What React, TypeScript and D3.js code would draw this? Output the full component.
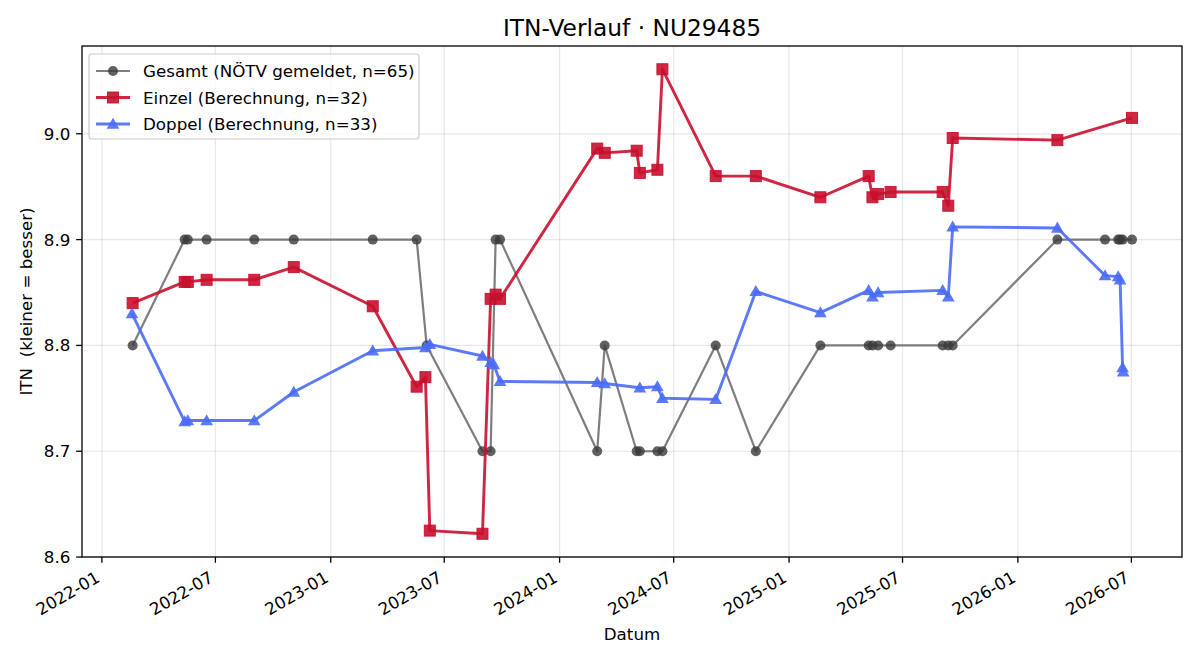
import { line, scaleLinear, scaleTime, symbol, symbolTriangle, timeFormat, timeMonth } from "d3";

const gesamtDates = [
  "2022-02-19", "2022-05-13", "2022-05-18", "2022-06-17", "2022-09-01", "2022-11-03",
  "2023-03-09", "2023-05-18", "2023-06-03", "2023-08-31", "2023-09-13", "2023-09-21",
  "2023-09-28", "2024-03-01", "2024-03-13", "2024-05-03", "2024-05-08", "2024-06-05",
  "2024-06-13", "2024-09-06", "2024-11-09", "2025-02-20", "2025-05-08", "2025-05-14",
  "2025-05-23", "2025-06-12", "2025-09-03", "2025-09-12", "2025-09-19", "2026-03-05",
  "2026-05-20", "2026-06-10", "2026-06-13", "2026-06-17", "2026-07-02",
];
const gesamtValues = [
  8.8, 8.9, 8.9, 8.9, 8.9, 8.9,
  8.9, 8.9, 8.8, 8.7, 8.7, 8.9,
  8.9, 8.7, 8.8, 8.7, 8.7, 8.7,
  8.7, 8.8, 8.7, 8.8, 8.8, 8.8,
  8.8, 8.8, 8.8, 8.8, 8.8, 8.9,
  8.9, 8.9, 8.9, 8.9, 8.9,
];

const einzelDates = [
  "2022-02-19", "2022-05-13", "2022-05-18", "2022-06-17", "2022-09-01", "2022-11-03",
  "2023-03-09", "2023-05-18", "2023-06-01", "2023-06-08", "2023-08-31", "2023-09-13",
  "2023-09-21", "2023-09-28", "2024-03-01", "2024-03-13", "2024-05-03", "2024-05-08",
  "2024-06-05", "2024-06-13", "2024-09-06", "2024-11-09", "2025-02-20", "2025-05-08",
  "2025-05-14", "2025-05-23", "2025-06-12", "2025-09-03", "2025-09-12", "2025-09-19",
  "2026-03-05", "2026-07-02",
];
const einzelValues = [
  8.840, 8.860, 8.860, 8.862, 8.862, 8.874,
  8.837, 8.761, 8.770, 8.625, 8.622, 8.844,
  8.848, 8.844, 8.986, 8.982, 8.984, 8.963,
  8.966, 9.061, 8.960, 8.960, 8.940, 8.960,
  8.940, 8.943, 8.945, 8.945, 8.932, 8.996,
  8.994, 9.015,
];

const doppelDates = [
  "2022-02-18", "2022-05-13", "2022-05-18", "2022-06-17", "2022-09-01", "2022-11-03",
  "2023-03-09", "2023-06-01", "2023-06-08", "2023-08-31", "2023-09-13", "2023-09-18",
  "2023-09-28", "2024-03-01", "2024-03-13", "2024-05-08", "2024-06-05", "2024-06-13",
  "2024-09-06", "2024-11-09", "2025-02-20", "2025-05-08", "2025-05-14", "2025-05-23",
  "2025-09-03", "2025-09-12", "2025-09-19", "2026-03-05", "2026-05-20", "2026-06-10",
  "2026-06-13", "2026-06-17", "2026-06-18",
];
const doppelValues = [
  8.830, 8.728, 8.729, 8.729, 8.729, 8.756,
  8.795, 8.798, 8.801, 8.790, 8.784, 8.782,
  8.766, 8.765, 8.764, 8.760, 8.761, 8.750,
  8.749, 8.851, 8.831, 8.852, 8.846, 8.850,
  8.852, 8.846, 8.912, 8.911, 8.866, 8.865,
  8.862, 8.779, 8.775,
];

const legendLabels = [
  "Gesamt (NÖTV gemeldet, n=65)",
  "Einzel (Berechnung, n=32)",
  "Doppel (Berechnung, n=33)",
];
const yTicks = [8.6, 8.7, 8.8, 8.9, 9.0];

type Pt = { d: Date; v: number };
const toPts = (dates: string[], values: number[]): Pt[] =>
  dates.map((s, i) => ({ d: new Date(s + "T00:00:00"), v: values[i] }));

const gesamt = toPts(gesamtDates, gesamtValues);
const einzel = toPts(einzelDates, einzelValues);
const doppel = toPts(doppelDates, doppelValues);

const GREY_LINE = "#707070";
const GREY_DOT = "#3a3a3a";
const RED = "#c8102e";
const BLUE = "#4a6cf7";
const FONT = "'DejaVu Sans', sans-serif";
const FS = 16.7;

export default function App() {
  const width = 1200;
  const height = 660;
  const left = 82;
  const right = 1182;
  const top = 46;
  const bottom = 557;

  // matplotlib-style 5% margins around the data
  const all = [...gesamt, ...einzel, ...doppel];
  const tMin = Math.min(...all.map((p) => +p.d));
  const tMax = Math.max(...all.map((p) => +p.d));
  const vMin = Math.min(...all.map((p) => p.v));
  const vMax = Math.max(...all.map((p) => p.v));
  const tPad = (tMax - tMin) * 0.05;
  const vPad = (vMax - vMin) * 0.05;

  const x = scaleTime()
    .domain([new Date(tMin - tPad), new Date(tMax + tPad)])
    .range([left, right]);
  const y = scaleLinear()
    .domain([vMin - vPad, vMax + vPad])
    .range([bottom, top]);

  const xTicks = timeMonth.every(6)!.range(new Date(2022, 0, 1), new Date(2026, 7, 1));
  const fmt = timeFormat("%Y-%m");

  const path = line<Pt>()
    .x((p) => x(p.d))
    .y((p) => y(p.v));

  const tri = symbol().type(symbolTriangle).size(70)()!;

  const square = (cx: number, cy: number, key: string | number) => (
    <rect key={key} x={cx - 5.5} y={cy - 5.5} width={11} height={11} fill={RED} fillOpacity={0.9} stroke={RED} strokeOpacity={0.9} strokeWidth={1} />
  );
  const triangle = (cx: number, cy: number, key: string | number) => (
    <path key={key} d={tri} transform={`translate(${cx},${cy + 1})`} fill={BLUE} fillOpacity={0.9} />
  );
  const dot = (cx: number, cy: number, key: string | number) => (
    <circle key={key} cx={cx} cy={cy} r={5} fill={GREY_DOT} fillOpacity={0.8} />
  );

  return (
    <svg
      width={width}
      height={height}
      style={{ position: "absolute", left: 0, top: 0, display: "block", background: "#fff" }}
      fontFamily={FONT}
    >
      <rect width={width} height={height} fill="#fff" />

      {/* grid */}
      {xTicks.map((t, i) => (
        <line key={"gx" + i} x1={x(t)} x2={x(t)} y1={top} y2={bottom} stroke="#b0b0b0" strokeOpacity={0.3} strokeWidth={1.2} />
      ))}
      {yTicks.map((t, i) => (
        <line key={"gy" + i} x1={left} x2={right} y1={y(t)} y2={y(t)} stroke="#b0b0b0" strokeOpacity={0.3} strokeWidth={1.2} />
      ))}

      {/* series */}
      <path d={path(gesamt) ?? ""} fill="none" stroke={GREY_LINE} strokeOpacity={0.9} strokeWidth={2.2} strokeLinejoin="round" />
      {gesamt.map((p, i) => dot(x(p.d), y(p.v), "g" + i))}

      <path d={path(einzel) ?? ""} fill="none" stroke={RED} strokeOpacity={0.9} strokeWidth={2.9} strokeLinejoin="round" />
      {einzel.map((p, i) => square(x(p.d), y(p.v), "e" + i))}

      <path d={path(doppel) ?? ""} fill="none" stroke={BLUE} strokeOpacity={0.9} strokeWidth={2.9} strokeLinejoin="round" />
      {doppel.map((p, i) => triangle(x(p.d), y(p.v), "d" + i))}

      {/* frame */}
      <rect x={left} y={top} width={right - left} height={bottom - top} fill="none" stroke="#000" strokeWidth={1.3} />

      {/* x axis */}
      {xTicks.map((t, i) => (
        <g key={"xt" + i}>
          <line x1={x(t)} x2={x(t)} y1={bottom} y2={bottom + 5.8} stroke="#000" strokeWidth={1.3} />
          <text
            transform={`translate(${x(t) - 1},${bottom + 24}) rotate(-30)`}
            textAnchor="end"
            fontSize={FS}
            fill="#000"
          >
            {fmt(t)}
          </text>
        </g>
      ))}

      {/* y axis */}
      {yTicks.map((t, i) => (
        <g key={"yt" + i}>
          <line x1={left - 5.8} x2={left} y1={y(t)} y2={y(t)} stroke="#000" strokeWidth={1.3} />
          <text x={left - 11.6} y={y(t)} dy="0.36em" textAnchor="end" fontSize={FS} fill="#000">
            {t.toFixed(1)}
          </text>
        </g>
      ))}

      <text x={(left + right) / 2} y={640} textAnchor="middle" fontSize={FS} fill="#000">
        Datum
      </text>
      <text
        transform={`translate(32,${(top + bottom) / 2}) rotate(-90)`}
        textAnchor="middle"
        fontSize={FS}
        fill="#000"
        style={{ whiteSpace: "pre" }}
      >
        {"ITN  (kleiner = besser)"}
      </text>

      <text x={(left + right) / 2} y={36} textAnchor="middle" fontSize={23.3} fill="#000">
        ITN-Verlauf · NU29485
      </text>

      {/* legend */}
      <g>
        <rect x={89} y={54} width={330} height={85} rx={3} fill="#fff" fillOpacity={0.8} stroke="#cccccc" strokeWidth={1.2} />
        {legendLabels.map((label, i) => {
          const ly = 71 + i * 26.5;
          const color = i === 0 ? GREY_LINE : i === 1 ? RED : BLUE;
          const sw = i === 0 ? 2.2 : 2.9;
          return (
            <g key={"lg" + i}>
              <line x1={96} x2={130} y1={ly} y2={ly} stroke={color} strokeOpacity={0.9} strokeWidth={sw} />
              {i === 0 ? dot(113, ly, "ld") : i === 1 ? square(113, ly, "ls") : triangle(113, ly, "lt")}
              <text x={143} y={ly} dy="0.36em" fontSize={FS} fill="#000">
                {label}
              </text>
            </g>
          );
        })}
      </g>
    </svg>
  );
}
